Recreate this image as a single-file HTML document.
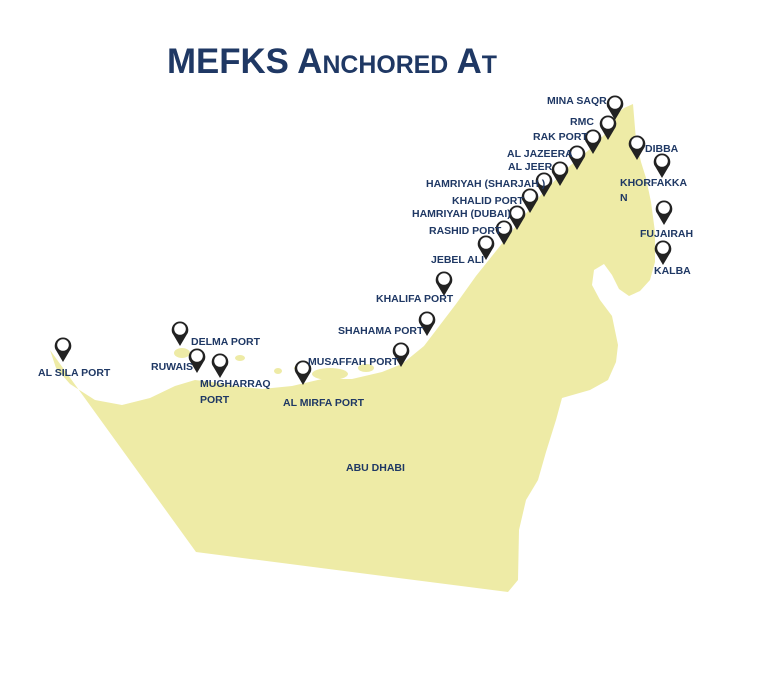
<!DOCTYPE html>
<html><head><meta charset="utf-8"><style>
body{margin:0;background:#fff;width:772px;height:700px;overflow:hidden}
svg{display:block}
.l{font-family:"Liberation Sans",sans-serif;font-weight:bold;font-size:10.5px;fill:#1f3864}
</style></head><body>
<svg width="772" height="700" viewBox="0 0 772 700">
<defs>
<g id="p"><path d="M0,0 L-6.5,-11 A8.3,8.3 0 1 1 6.5,-11 Z" fill="#222"/><circle cx="0" cy="-17" r="5.8" fill="#fff"/></g>
</defs>
<text x="167" y="73" font-family="Liberation Sans,sans-serif" font-weight="bold" font-size="35" fill="#1f3864" style="font-variant:small-caps" textLength="330" lengthAdjust="spacingAndGlyphs">MEFKS Anchored At</text>
<g fill="#eeeba6">
<path d="M50,350 L56,368 L70,384 L95,400 L122,405 L150,398 L175,386 L195,380 L212,382 L236,386 L262,389 L292,386 L322,379 L352,379 L382,372 L402,364 L424,346 L440,325 L456,304 L476,276 L496,251 L516,226 L540,196 L565,170 L590,149 L608,131 L614,116 L624,108 L633,104 L636,140 L641,162 L646,178 L651,202 L655,232 L655,262 L650,280 L640,291 L629,296 L619,289 L612,275 L604,264 L594,270 L592,285 L600,300 L612,316 L618,345 L616,362 L608,380 L590,390 L562,398 L556,420 L546,452 L538,480 L526,500 L519,530 L518,580 L508,592 L196,552 Z"/>
<ellipse cx="182" cy="353" rx="8" ry="5"/>
<ellipse cx="240" cy="358" rx="5" ry="3"/>
<ellipse cx="278" cy="371" rx="4" ry="3"/>
<ellipse cx="330" cy="374" rx="18" ry="6"/>
<ellipse cx="366" cy="368" rx="8" ry="4"/>
<ellipse cx="300" cy="368" rx="6" ry="3"/>
</g>
<use href="#p" x="63" y="362"/><use href="#p" x="180" y="346"/><use href="#p" x="197" y="373"/>
<use href="#p" x="220" y="378"/><use href="#p" x="303" y="385"/><use href="#p" x="401" y="367"/>
<use href="#p" x="427" y="336"/><use href="#p" x="444" y="296"/><use href="#p" x="486" y="260"/>
<use href="#p" x="504" y="245"/><use href="#p" x="517" y="230"/><use href="#p" x="530" y="213"/>
<use href="#p" x="544" y="197"/><use href="#p" x="560" y="186"/><use href="#p" x="577" y="170"/>
<use href="#p" x="593" y="154"/><use href="#p" x="608" y="140"/><use href="#p" x="615" y="120"/>
<use href="#p" x="637" y="160"/><use href="#p" x="662" y="178"/><use href="#p" x="664" y="225"/>
<use href="#p" x="663" y="265"/>
<text class="l" x="38" y="376">AL SILA PORT</text>
<text class="l" x="191" y="345">DELMA PORT</text>
<text class="l" x="151" y="370">RUWAIS</text>
<text class="l" x="200" y="387">MUGHARRAQ</text>
<text class="l" x="200" y="403">PORT</text>
<text class="l" x="283" y="406">AL MIRFA PORT</text>
<text class="l" x="308" y="365">MUSAFFAH PORT</text>
<text class="l" x="338" y="334">SHAHAMA PORT</text>
<text class="l" x="376" y="302">KHALIFA PORT</text>
<text class="l" x="431" y="263">JEBEL ALI</text>
<text class="l" x="429" y="234">RASHID PORT</text>
<text class="l" x="412" y="217">HAMRIYAH (DUBAI)</text>
<text class="l" x="452" y="204">KHALID PORT</text>
<text class="l" x="426" y="187">HAMRIYAH (SHARJAH )</text>
<text class="l" x="508" y="170">AL JEER</text>
<text class="l" x="507" y="157">AL JAZEERA</text>
<text class="l" x="533" y="140">RAK PORT</text>
<text class="l" x="570" y="125">RMC</text>
<text class="l" x="547" y="104">MINA SAQR</text>
<text class="l" x="645" y="152">DIBBA</text>
<text class="l" x="620" y="186">KHORFAKKA</text>
<text class="l" x="620" y="201">N</text>
<text class="l" x="640" y="237">FUJAIRAH</text>
<text class="l" x="654" y="274">KALBA</text>
<text class="l" x="346" y="471">ABU DHABI</text>
</svg>
</body></html>
